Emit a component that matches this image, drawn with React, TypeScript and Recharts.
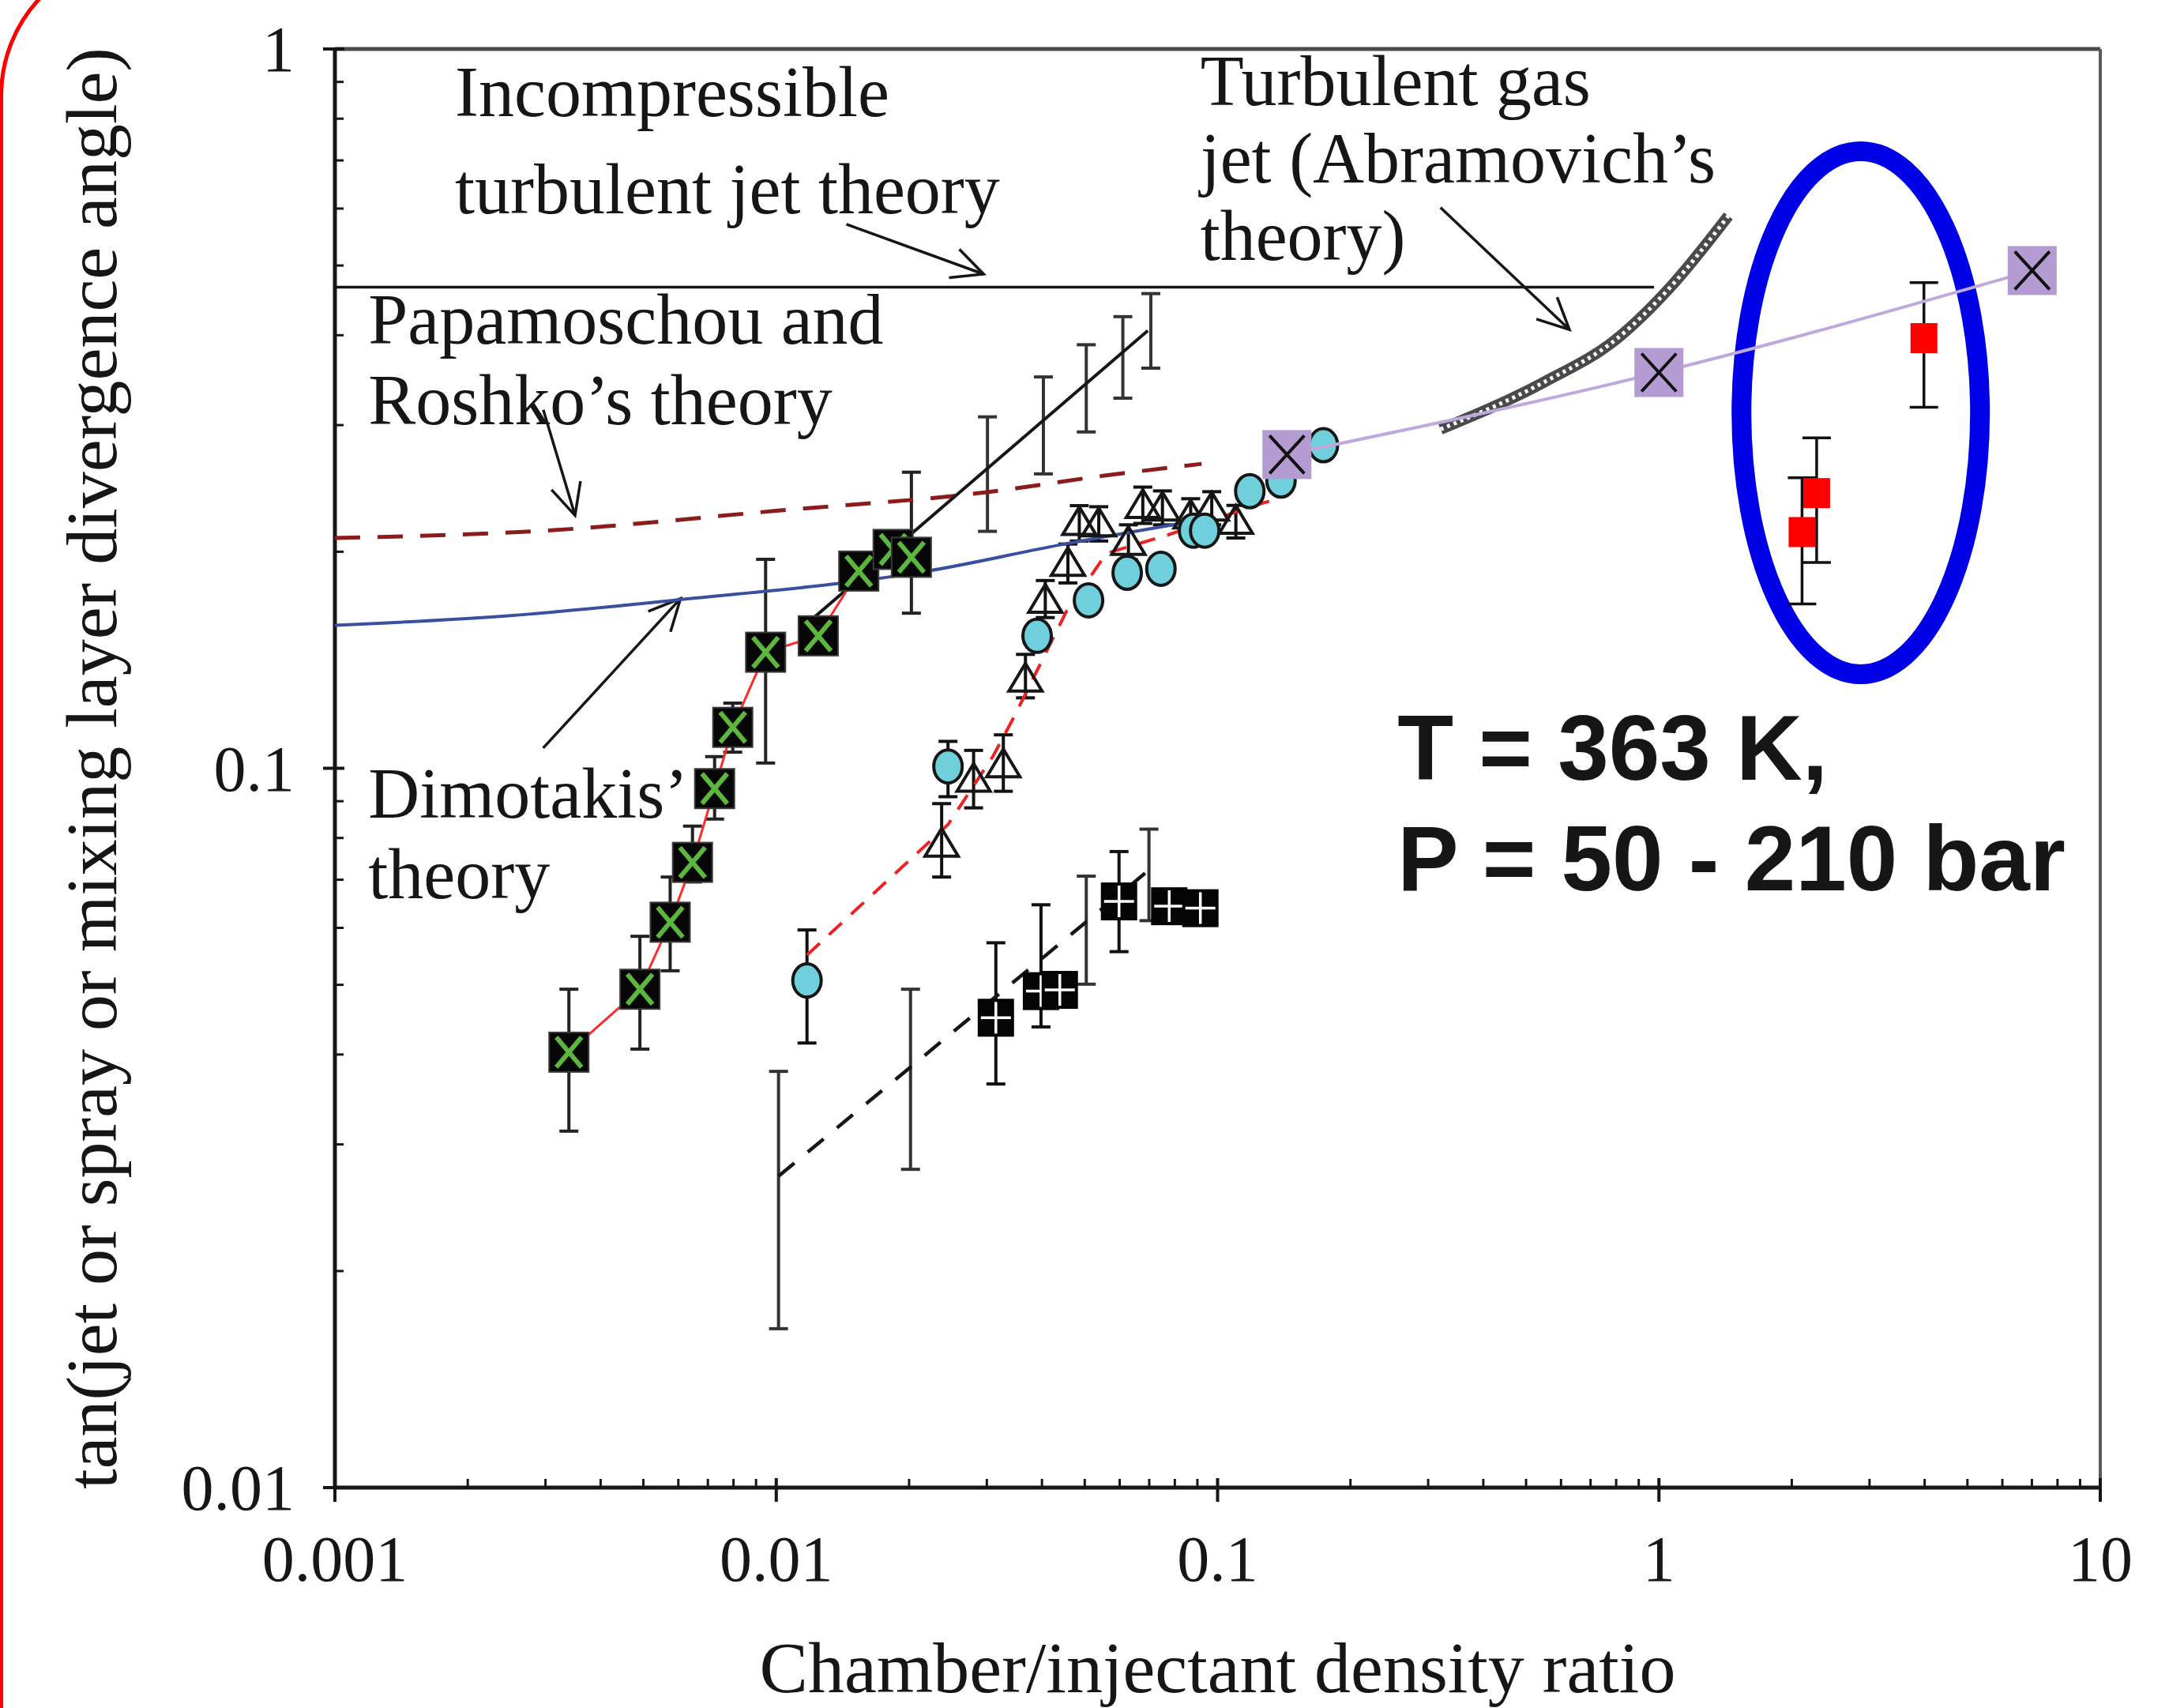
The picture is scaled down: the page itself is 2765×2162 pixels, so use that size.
import {
  ScatterChart,
  Scatter,
  XAxis,
  YAxis,
  ErrorBar,
  ReferenceLine,
  ReferenceArea,
  ReferenceDot,
} from 'recharts';

const W = 2765;
const H = 2162;
const SERIF = '"Liberation Serif", "Times New Roman", serif';
const SANS = '"Liberation Sans", Arial, sans-serif';
const INK = '#161616';

// axis ticks
const xMajor = [0.001, 0.01, 0.1, 1, 10];
const xTickLabels = ['0.001', '0.01', '0.1', '1', '10'];
const yMajor = [0.01, 0.1, 1];
const yTickLabels = ['0.01', '0.1', '1'];
const minorSteps = [2, 3, 4, 5, 6, 7, 8, 9];
const xMinor = [0.001, 0.01, 0.1, 1].flatMap((d) => minorSteps.map((m) => +(d * m).toPrecision(3)));
const yMinor = [0.01, 0.1].flatMap((d) => minorSteps.map((m) => +(d * m).toPrecision(3)));

// measured points: [density ratio, tan(angle), lower bound, upper bound]
const greenSquares = [
  [0.00339, 0.0403, 0.0313, 0.0493],
  [0.00491, 0.0493, 0.0407, 0.0584],
  [0.00575, 0.0611, 0.0523, 0.0706],
  [0.00646, 0.074, 0.0695, 0.0831],
  [0.00725, 0.0937, 0.085, 0.1038],
  [0.00797, 0.114, 0.1053, 0.1232],
  [0.00946, 0.145, 0.1017, 0.1952],
  [0.01245, 0.1528],
  [0.01538, 0.188],
  [0.0184, 0.2015],
  [0.02024, 0.1965, 0.1643, 0.258],
];

const cyanCircles = [
  [0.01174, 0.0507, 0.0415, 0.0596],
  [0.0245, 0.1006, 0.0913, 0.109],
  [0.039, 0.1528],
  [0.051, 0.1712],
  [0.0624, 0.187],
  [0.0744, 0.1894],
  [0.0882, 0.214],
  [0.0935, 0.214],
  [0.1183, 0.2428],
  [0.1392, 0.2512],
  [0.1737, 0.2813],
];

const openTriangles = [
  [0.0237, 0.0784, 0.0706, 0.0893],
  [0.028, 0.0965, 0.0881, 0.1059],
  [0.0327, 0.1011, 0.0929, 0.1113],
  [0.0367, 0.133, 0.1253, 0.144],
  [0.0407, 0.1712, 0.162, 0.1824],
  [0.0458, 0.1926, 0.181, 0.205],
  [0.0486, 0.2195, 0.207, 0.2318],
  [0.0538, 0.2186, 0.207, 0.231],
  [0.0628, 0.206, 0.195, 0.218],
  [0.0677, 0.2318, 0.219, 0.246],
  [0.075, 0.23, 0.218, 0.243],
  [0.0869, 0.2242, 0.212, 0.237],
  [0.097, 0.23, 0.218, 0.2424],
  [0.11, 0.2204, 0.209, 0.232],
];

const plusSquares = [
  [0.03145, 0.045, 0.0364, 0.0572],
  [0.0398, 0.049, 0.0437, 0.0646],
  [0.0439, 0.0492],
  [0.0598, 0.0653, 0.0556, 0.0766],
  [0.0777, 0.0643],
  [0.0914, 0.0639],
];

// error bars without a marker
const plusBars = [
  [0.01012, 0.0271, 0.01663, 0.0379],
  [0.02015, 0.0385, 0.0277, 0.0493],
  [0.0504, 0.0613, 0.0501, 0.0708],
  [0.0699, 0.0722, 0.0614, 0.0823],
];

const fitBars = [
  [0.0301, 0.2615, 0.2135, 0.308],
  [0.0403, 0.305, 0.2566, 0.35],
  [0.0504, 0.3425, 0.2935, 0.388],
  [0.061, 0.3795, 0.327, 0.4245],
  [0.0706, 0.41, 0.36, 0.457],
];

const purpleSquares = [
  [0.1436, 0.273],
  [1.0, 0.355],
  [7.01, 0.492],
];

const redSquares = [
  [2.11, 0.213, 0.1692, 0.2535],
  [2.277, 0.2413, 0.1932, 0.288],
  [3.985, 0.3963, 0.3176, 0.4733],
];

// theory / fit curves: [density ratio, tan(angle)]
const incompressible = [[0.001, 0.4666], [0.975, 0.4666]];
const papamoschou = [[0.001, 0.209], [0.003, 0.214], [0.01, 0.228], [0.03, 0.242], [0.055, 0.255], [0.092, 0.265]];
const dimotakis = [[0.001, 0.158], [0.0025, 0.163], [0.006, 0.1715], [0.022, 0.188], [0.045, 0.205], [0.09, 0.221]];
const abramovich = [[0.32, 0.296], [0.548, 0.344], [0.805, 0.396], [1.056, 0.465], [1.436, 0.586]];
const circleFit = [[0.01174, 0.055], [0.0245, 0.0835], [0.031, 0.104], [0.0346, 0.118], [0.0455, 0.1655], [0.056, 0.199], [0.077, 0.211], [0.122, 0.232], [0.145, 0.24]];
const plusFit = [[0.01012, 0.0271], [0.0699, 0.0722]];
const blackFit = [[0.01155, 0.1576], [0.0695, 0.406]];

// annotation arrows: [from, to]
const arrows = [
  [[0.01442, 0.5705], [0.0295, 0.4864]],
  [[0.002966, 0.3151], [0.0035, 0.2247]],
  [[0.002964, 0.1067], [0.00607, 0.1722]],
  [[0.32, 0.602], [0.627, 0.4072]],
];

const toPts = (rows: number[][]) =>
  rows.map(([x, y, lo, hi]) => ({
    x,
    y,
    err: [lo == null ? 0 : y - lo, hi == null ? 0 : hi - y],
  }));
const toLine = (rows: number[][]) => rows.map(([x, y]) => ({ x, y }));

const noShape = () => <g />;

const greenShape = (p: any) => (
  <g>
    <rect x={p.cx - 25} y={p.cy - 25} width={50} height={50} fill="#060606" stroke="#3a3a3a" strokeWidth={2} />
    <path
      d={`M${p.cx - 16},${p.cy - 19}L${p.cx + 16},${p.cy + 19}M${p.cx + 16},${p.cy - 19}L${p.cx - 16},${p.cy + 19}`}
      stroke="#5cb83c"
      strokeWidth={6}
    />
  </g>
);

const circleShape = (p: any) => (
  <ellipse cx={p.cx} cy={p.cy} rx={18} ry={21} fill="#6fcfdb" stroke={INK} strokeWidth={4} />
);

const triangleShape = (p: any) => (
  <path
    d={`M${p.cx},${p.cy - 20}L${p.cx + 21},${p.cy + 15}L${p.cx - 21},${p.cy + 15}Z`}
    fill="none"
    stroke={INK}
    strokeWidth={4}
  />
);

const plusShape = (p: any) => (
  <g>
    <rect x={p.cx - 23} y={p.cy - 24} width={46} height={48} fill="#050505" />
    <path
      d={`M${p.cx - 19},${p.cy}L${p.cx + 19},${p.cy}M${p.cx},${p.cy - 20}L${p.cx},${p.cy + 20}`}
      stroke="#ffffff"
      strokeWidth={3.5}
    />
  </g>
);

const purpleShape = (p: any) => (
  <g>
    <rect x={p.cx - 31} y={p.cy - 31} width={62} height={62} fill="#b49cd2" />
    <path
      d={`M${p.cx - 22},${p.cy - 24}L${p.cx + 22},${p.cy + 24}M${p.cx + 22},${p.cy - 24}L${p.cx - 22},${p.cy + 24}`}
      stroke="#111"
      strokeWidth={4}
    />
  </g>
);

const redShape = (p: any) => <rect x={p.cx - 17} y={p.cy - 19} width={34} height={38} fill="#ff0000" />;

const arrowShape = (p: any) => {
  const { x1, y1, x2, y2 } = p;
  const a = Math.atan2(y2 - y1, x2 - x1);
  const L = 44;
  const s = 0.45;
  const h1 = `${x2 - L * Math.cos(a - s)},${y2 - L * Math.sin(a - s)}`;
  const h2 = `${x2 - L * Math.cos(a + s)},${y2 - L * Math.sin(a + s)}`;
  return (
    <g stroke={INK} strokeWidth={3.5} fill="none">
      <line x1={x1} y1={y1} x2={x2} y2={y2} />
      <polyline points={`${h1} ${x2},${y2} ${h2}`} />
    </g>
  );
};

const ellipseShape = (p: any) => (
  <ellipse
    cx={p.x + p.width / 2}
    cy={p.y + p.height / 2}
    rx={Math.abs(p.width) / 2}
    ry={Math.abs(p.height) / 2}
    fill="none"
    stroke="#0000e6"
    strokeWidth={25}
  />
);

const textBlock =
  (lines: string[], gap: number, font: string, size: number, weight = 400) =>
  (p: any) => (
    <text x={p.cx} y={p.cy} fontFamily={font} fontSize={size} fontWeight={weight} fill={INK}>
      {lines.map((t, i) => (
        <tspan key={i} x={p.cx} dy={i === 0 ? 0 : gap}>
          {t}
        </tspan>
      ))}
    </text>
  );

const xLabelShape = (p: any) => (
  <text x={p.cx} y={p.cy + 259} textAnchor="middle" fontFamily={SERIF} fontSize={92} fill={INK}>
    Chamber/injectant density ratio
  </text>
);

const yLabelShape = (p: any) => (
  <text
    x={p.cx - 277}
    y={p.cy}
    textAnchor="middle"
    transform={`rotate(-90, ${p.cx - 277}, ${p.cy})`}
    fontFamily={SERIF}
    fontSize={92}
    fill={INK}
  >
    tan(jet or spray or mixing layer divergence angle)
  </text>
);

const XTick = (p: any) => {
  const i = xMajor.indexOf(p.payload.value);
  if (i < 0) {
    return <line x1={p.x} x2={p.x} y1={p.y} y2={p.y - 11} stroke={INK} strokeWidth={3} />;
  }
  return (
    <g>
      <line x1={p.x} x2={p.x} y1={p.y - 12} y2={p.y + 18} stroke={INK} strokeWidth={4} />
      <text x={p.x} y={p.y + 118} textAnchor="middle" fontFamily={SERIF} fontSize={82} fill={INK}>
        {xTickLabels[i]}
      </text>
    </g>
  );
};

const YTick = (p: any) => {
  const i = yMajor.indexOf(p.payload.value);
  if (i < 0) {
    return <line x1={p.x} x2={p.x + 11} y1={p.y} y2={p.y} stroke={INK} strokeWidth={3} />;
  }
  return (
    <g>
      <line x1={p.x - 15} x2={p.x + 12} y1={p.y} y2={p.y} stroke={INK} strokeWidth={4} />
      <text x={p.x - 51} y={p.y + 28} textAnchor="end" fontFamily={SERIF} fontSize={82} fill={INK}>
        {yTickLabels[i]}
      </text>
    </g>
  );
};

const lineSeries = (rows: number[][], line: any, joint = 'linear') => (
  <Scatter
    data={toLine(rows)}
    shape={noShape}
    line={line}
    lineJointType={joint as any}
    isAnimationActive={false}
    legendType="none"
  />
);

export default function App() {
  return (
    <div style={{ position: 'absolute', left: 0, top: 0, width: W, height: H, overflow: 'hidden', background: '#fff' }}>
      <div
        style={{
          position: 'absolute',
          left: -1,
          top: -61,
          width: 3200,
          height: 3200,
          border: '5px solid #ff0000',
          borderRadius: 182,
          boxSizing: 'border-box',
        }}
      />
      <div style={{ position: 'absolute', left: 0, top: 0 }}>
        <ScatterChart width={W} height={H} margin={{ top: 62, right: 106, bottom: 179, left: 324 }}>
          <XAxis
            type="number"
            dataKey="x"
            scale="log"
            domain={[0.001, 10]}
            allowDataOverflow
            ticks={[...xMajor, ...xMinor]}
            interval={0}
            tick={XTick}
            tickLine={false}
            tickSize={0}
            tickMargin={0}
            height={100}
            axisLine={{ stroke: INK, strokeWidth: 5 }}
          />
          <YAxis
            type="number"
            dataKey="y"
            scale="log"
            domain={[0.01, 1]}
            allowDataOverflow
            ticks={[...yMajor, ...yMinor]}
            interval={0}
            tick={YTick}
            tickLine={false}
            tickSize={0}
            tickMargin={0}
            width={100}
            axisLine={{ stroke: INK, strokeWidth: 5 }}
          />

          <ReferenceLine y={1} stroke="#4a4a4a" strokeWidth={5} />
          <ReferenceLine x={10} stroke="#5a5a5a" strokeWidth={4} />

          {lineSeries(incompressible, { stroke: INK, strokeWidth: 3.5 })}
          {lineSeries(papamoschou, { stroke: '#8c1c1c', strokeWidth: 5, strokeDasharray: '32 22' }, 'monotoneX')}
          {lineSeries(dimotakis, { stroke: '#3a4fa0', strokeWidth: 4 }, 'monotoneX')}
          {lineSeries(abramovich, { stroke: '#4a4a4a', strokeWidth: 14 }, 'monotoneX')}
          {lineSeries(abramovich, { stroke: '#ffffff', strokeWidth: 5, strokeDasharray: '4 5' }, 'monotoneX')}
          {lineSeries(circleFit, { stroke: '#ee2222', strokeWidth: 4, strokeDasharray: '22 16' })}
          {lineSeries(plusFit, { stroke: INK, strokeWidth: 4.5, strokeDasharray: '26 22' })}
          {lineSeries(blackFit, { stroke: INK, strokeWidth: 4 })}

          <Scatter data={toPts(fitBars)} shape={noShape} isAnimationActive={false} legendType="none">
            <ErrorBar dataKey="err" direction="y" width={12} stroke="#333" strokeWidth={4} isAnimationActive={false} />
          </Scatter>
          <Scatter data={toPts(plusBars)} shape={noShape} isAnimationActive={false} legendType="none">
            <ErrorBar dataKey="err" direction="y" width={12} stroke="#333" strokeWidth={4} isAnimationActive={false} />
          </Scatter>

          <Scatter
            data={toPts(greenSquares)}
            shape={greenShape}
            line={{ stroke: '#ff2b2b', strokeWidth: 3 }}
            isAnimationActive={false}
            legendType="none"
          >
            <ErrorBar dataKey="err" direction="y" width={12} stroke="#222" strokeWidth={4} isAnimationActive={false} />
          </Scatter>
          <Scatter data={toPts(openTriangles)} shape={triangleShape} isAnimationActive={false} legendType="none">
            <ErrorBar dataKey="err" direction="y" width={12} stroke="#111" strokeWidth={4} isAnimationActive={false} />
          </Scatter>
          <Scatter data={toPts(cyanCircles)} shape={circleShape} isAnimationActive={false} legendType="none">
            <ErrorBar dataKey="err" direction="y" width={12} stroke="#111" strokeWidth={4} isAnimationActive={false} />
          </Scatter>
          <Scatter data={toPts(plusSquares)} shape={plusShape} isAnimationActive={false} legendType="none">
            <ErrorBar dataKey="err" direction="y" width={12} stroke="#111" strokeWidth={4} isAnimationActive={false} />
          </Scatter>
          <Scatter
            data={toPts(purpleSquares)}
            shape={purpleShape}
            line={{ stroke: '#c0a8dd', strokeWidth: 4 }}
            lineJointType="monotoneX"
            isAnimationActive={false}
            legendType="none"
          />
          <Scatter data={toPts(redSquares)} shape={redShape} isAnimationActive={false} legendType="none">
            <ErrorBar dataKey="err" direction="y" width={18} stroke="#111" strokeWidth={3.5} isAnimationActive={false} />
          </Scatter>

          <ReferenceArea x1={1.538} x2={5.339} y1={0.1351} y2={0.7207} shape={ellipseShape} />

          {arrows.map(([a, b], i) => (
            <ReferenceLine key={i} segment={[{ x: a[0], y: a[1] }, { x: b[0], y: b[1] }]} shape={arrowShape} />
          ))}

          <ReferenceDot x={0.001871} y={0.8066} r={0} shape={textBlock(['Incompressible', 'turbulent jet theory'], 123, SERIF, 90)} />
          <ReferenceDot x={0.0914} y={0.8355} r={0} shape={textBlock(['Turbulent gas', 'jet (Abramovich\u2019s', 'theory)'], 98, SERIF, 90)} />
          <ReferenceDot x={0.00119} y={0.3894} r={0} shape={textBlock(['Papamoschou and', 'Roshko\u2019s theory'], 102, SERIF, 90)} />
          <ReferenceDot x={0.00119} y={0.0854} r={0} shape={textBlock(['Dimotakis\u2019', 'theory'], 102, SERIF, 90)} />
          <ReferenceDot x={0.2555} y={0.0965} r={0} shape={textBlock(['T = 363 K,', 'P = 50 - 210 bar'], 140, SANS, 116, 700)} />
          <ReferenceDot x={0.1} y={0.01} r={0} shape={xLabelShape} />
          <ReferenceDot x={0.001} y={0.1} r={0} shape={yLabelShape} />
        </ScatterChart>
      </div>
    </div>
  );
}
